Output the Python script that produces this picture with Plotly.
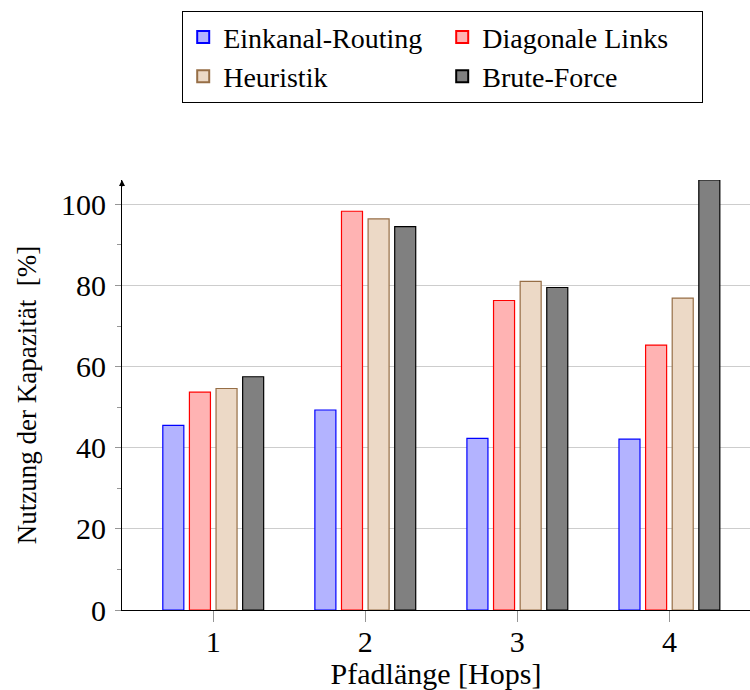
import plotly.graph_objects as go

categories = [1, 2, 3, 4]
series_names = ["Einkanal-Routing", "Diagonale Links", "Heuristik", "Brute-Force"]
einkanal = [45.5, 49.3, 42.3, 42.1]
diagonal = [53.7, 98.3, 76.3, 65.3]
heuristik = [54.6, 96.4, 81.0, 76.9]
brute = [57.5, 94.5, 79.5, 106]

values = [einkanal, diagonal, heuristik, brute]
fills = ["rgb(179,179,255)", "rgb(255,179,179)", "rgb(236,217,198)", "rgb(128,128,128)"]
lines = ["rgb(0,0,255)", "rgb(255,0,0)", "rgb(150,110,70)", "rgb(0,0,0)"]

FONT = "Liberation Serif"

fig = go.Figure()
for name, vals, fc, lc in zip(series_names, values, fills, lines):
    fig.add_trace(go.Bar(x=categories, y=vals, name=name,
                         marker=dict(color=fc, line=dict(color=lc, width=1.2))))

fig.update_layout(
    width=750, height=690,
    margin=dict(l=122, r=0, t=180, b=80, autoexpand=False),
    plot_bgcolor="white", paper_bgcolor="white",
    font=dict(family=FONT, size=30, color="black"),
    barmode="group", bargap=0.30, bargroupgap=0.21,
    showlegend=True,
    legend=dict(orientation="h", x=182 / 750, xanchor="left", y=1 - 11 / 690, yanchor="top",
                yref="container", xref="container", entrywidth=214, bordercolor="black", borderwidth=1.2,
                font=dict(family=FONT, size=28), traceorder="normal",
                itemsizing="constant", tracegroupgap=0),
    xaxis=dict(range=[0.4, 4.53], tickvals=categories, ticktext=[str(c) for c in categories],
               showline=True, linecolor="black", linewidth=1.2,
               ticks="outside", ticklen=11, tickcolor="rgb(150,150,150)",
               showgrid=False, zeroline=False, automargin=False,
               tickfont=dict(size=30), ticklabelstandoff=-6,
               title=dict(text="Pfadlänge [Hops]", font=dict(size=30), standoff=0)),
    yaxis=dict(range=[0, 106], tickvals=[0, 20, 40, 60, 80, 100],
               showline=True, linecolor="black", linewidth=1.2,
               ticks="outside", ticklen=6, tickcolor="rgb(150,150,150)",
               showgrid=True, gridcolor="rgb(205,205,205)", gridwidth=1,
               zeroline=False, tickfont=dict(size=30), automargin=False, ticklabelstandoff=3,
               minor=dict(dtick=10, ticks="outside", ticklen=4, tickcolor="rgb(150,150,150)", showgrid=False),
               title=dict(text="Nutzung der Kapazität  [%]", font=dict(size=27), standoff=16)),
)

fig.add_annotation(xref="paper", yref="paper", x=0, y=1.0, ax=0, ay=8, axref="pixel", ayref="pixel",
                   showarrow=True, arrowhead=2, arrowsize=1, arrowwidth=1.2, arrowcolor="black", text="")

fig.write_html("out.html", config={"displayModeBar": False},
               post_script="document.body.style.margin='0px';")
